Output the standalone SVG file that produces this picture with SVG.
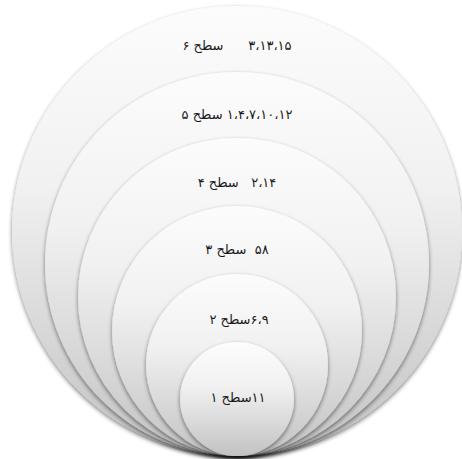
<svg xmlns="http://www.w3.org/2000/svg" width="462" height="459" viewBox="0 0 462 459">
<defs>
<linearGradient id="g" x1="0" y1="0" x2="0" y2="1">
<stop offset="0" stop-color="#fcfcfc"/>
<stop offset="0.4" stop-color="#f1f1f1"/>
<stop offset="1" stop-color="#c2c2c2"/>
</linearGradient>
<filter id="sh" x="-10%" y="-10%" width="120%" height="120%">
<feGaussianBlur in="SourceAlpha" stdDeviation="2.2"/>
<feOffset dx="0" dy="1.5" result="b"/>
<feComponentTransfer in="b" result="s"><feFuncA type="linear" slope="0.5"/></feComponentTransfer>
<feMerge><feMergeNode in="s"/><feMergeNode in="SourceGraphic"/></feMerge>
</filter>
</defs>
<style>
.c{fill:url(#g);filter:url(#sh)}
.t{font-family:"DejaVu Sans","Noto Sans",sans-serif;font-size:13px;fill:#1a1a1a;text-anchor:middle;direction:rtl;white-space:pre}
</style>
<g id="level6"><circle class="c" cx="237" cy="231" r="225"/><text class="t" x="237" y="50" xml:space="preserve">۳،۱۳،۱۵      سطح ۶</text></g>
<g id="level5"><circle class="c" cx="237" cy="264" r="192"/><text class="t" x="237" y="119" xml:space="preserve">۱،۴،۷،۱۰،۱۲ سطح ۵</text></g>
<g id="level4"><circle class="c" cx="237" cy="297" r="159"/><text class="t" x="237" y="187" xml:space="preserve">۲،۱۴   سطح ۴</text></g>
<g id="level3"><circle class="c" cx="237" cy="331" r="125"/><text class="t" x="237" y="254" xml:space="preserve">۵۸  سطح ۳</text></g>
<g id="level2"><circle class="c" cx="237" cy="365" r="91"/><text class="t" x="239" y="324" xml:space="preserve">۶،۹سطح ۲</text></g>
<g id="level1"><circle class="c" cx="237" cy="399" r="57"/><text class="t" x="238" y="402" xml:space="preserve">۱۱سطح ۱</text></g>
<g id="connectors"/>
</svg>
